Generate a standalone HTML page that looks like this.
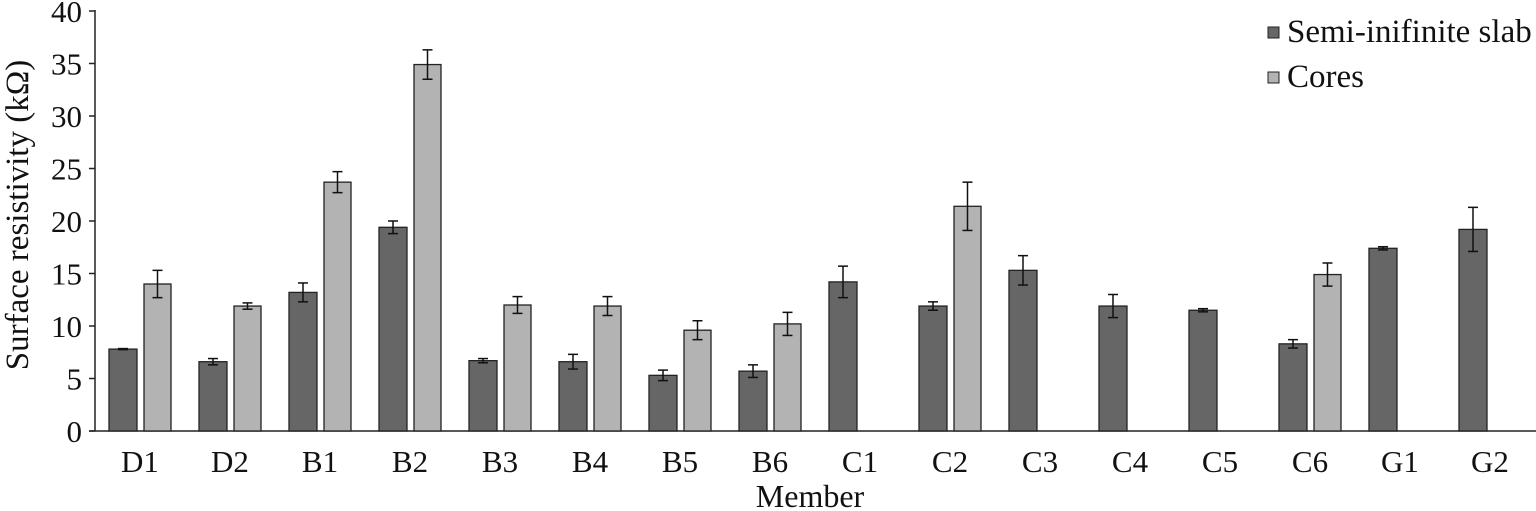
<!DOCTYPE html>
<html><head><meta charset="utf-8"><style>
html,body{margin:0;padding:0;background:#fff;width:1536px;height:511px;overflow:hidden}
svg text{font-family:"Liberation Serif",serif;fill:#111}
</style></head><body>
<svg id="s" width="1536" height="511" xmlns="http://www.w3.org/2000/svg">
<line x1="95" y1="10" x2="95" y2="431" stroke="#222" stroke-width="1.5"/>
<line x1="89" y1="431" x2="1536" y2="431" stroke="#222" stroke-width="1.5"/>
<text x="0" y="0" font-size="33" text-anchor="middle" transform="translate(28,215) rotate(-90)">Surface resistivity (kΩ)</text>
<text x="810" y="507" font-size="32" text-anchor="middle">Member</text>
<rect x="1268" y="27" width="11" height="11" fill="#666" stroke="#222" stroke-width="1"/>
<text x="1287" y="42" font-size="33">Semi-inifinite slab</text>
<rect x="1268" y="72" width="11" height="11" fill="#b3b3b3" stroke="#222" stroke-width="1"/>
<text x="1287" y="87" font-size="33">Cores</text>
</svg>
<script>
var s=document.getElementById('s'),NS='http://www.w3.org/2000/svg';
function el(t,a,txt){var e=document.createElementNS(NS,t);for(var k in a)e.setAttribute(k,a[k]);if(txt!=null)e.textContent=txt;s.appendChild(e);return e;}
function Y(v){return 431-v*10.5;}
for(var v=0;v<=40;v+=5){el('line',{x1:89,y1:Y(v),x2:95,y2:Y(v),stroke:'#222','stroke-width':1.5});el('text',{x:82,y:Y(v)+11,'font-size':31,'text-anchor':'end'},v);}
var d=[['D1',7.8,.05,14.0,1.3],['D2',6.6,.3,11.9,.3],['B1',13.2,.9,23.7,1.0],['B2',19.4,.6,34.9,1.4],['B3',6.7,.2,12.0,.8],['B4',6.6,.7,11.9,.9],['B5',5.3,.5,9.6,.9],['B6',5.7,.6,10.2,1.1],['C1',14.2,1.5],['C2',11.9,.4,21.4,2.3],['C3',15.3,1.4],['C4',11.9,1.1],['C5',11.5,.15],['C6',8.3,.4,14.9,1.1],['G1',17.4,.15],['G2',19.2,2.1]];
function bar(x,w,v,e,c){el('rect',{x:x,y:Y(v),width:w,height:v*10.5,fill:c,stroke:'#222','stroke-width':1.3});var cx=x+w/2;
el('line',{x1:cx,y1:Y(v+e),x2:cx,y2:Y(v-e),stroke:'#111','stroke-width':1.5});
el('line',{x1:cx-5,y1:Y(v+e),x2:cx+5,y2:Y(v+e),stroke:'#111','stroke-width':1.5});
el('line',{x1:cx-5,y1:Y(v-e),x2:cx+5,y2:Y(v-e),stroke:'#111','stroke-width':1.5});}
d.forEach(function(r,i){var x=109+90*i;bar(x,28,r[1],r[2],'#666');if(r.length>3)bar(x+35,27,r[3],r[4],'#b3b3b3');
el('text',{x:140+90*i,y:472,'font-size':31,'text-anchor':'middle'},r[0]);});
</script>
</body></html>
